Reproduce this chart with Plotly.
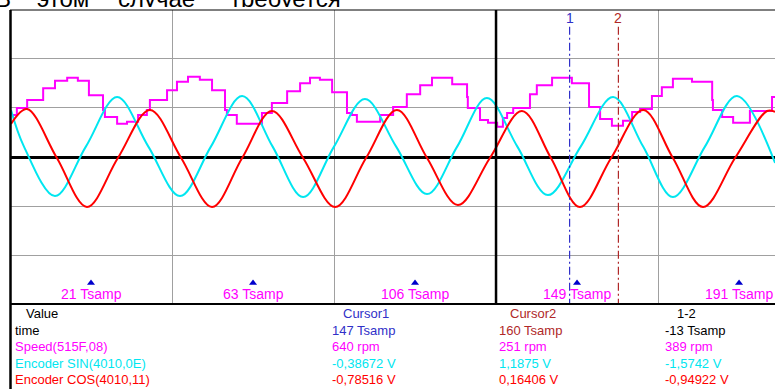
import plotly.graph_objects as go

W, H = 775, 389

# ---------------- data (x in Tsamp, y in screen divisions) ----------------
speed_t = [0.5, 1.8, 4.5, 8.7, 11.8, 15.0, 17.8, 20.7, 24.4, 24.9, 28.1, 30.7, 33.6, 35.9,
           36.7, 41.2, 43.8, 46.7, 49.8, 53.0, 56.4, 56.9, 59.5, 66.1, 68.7, 72.7, 76.1,
           78.7, 81.3, 84.5, 88.4, 89.7, 91.0, 97.1, 100.5, 104.1, 107.6, 110.7, 116.0,
           119.9, 120.1, 123.3, 125.4, 127.8, 129.3, 130.4, 132.0, 136.4, 138.2, 142.2,
           147.4, 151.9, 154.8, 157.9, 160.8, 163.2, 165.3, 168.4, 171.0, 173.9, 178.9,
           184.2, 184.4, 186.8, 189.7, 194.1, 199.9, 201.0]
speed_v = [0.85, 0.99, 1.15, 1.39, 1.54, 1.60, 1.54, 1.25, 0.95, 0.81, 0.67, 0.71, 0.85, 0.95,
           1.15, 1.35, 1.52, 1.62, 1.56, 1.35, 0.95, 0.85, 0.67, 0.89, 1.09, 1.33, 1.49,
           1.60, 1.56, 1.31, 0.89, 0.85, 0.71, 0.85, 1.01, 1.27, 1.45, 1.60, 1.47,
           1.21, 0.99, 0.75, 0.69, 0.61, 0.79, 0.89, 0.99, 1.27, 1.45, 1.60,
           1.49, 1.01, 0.77, 0.63, 0.73, 0.91, 0.97, 1.23, 1.41, 1.58, 1.52,
           1.15, 0.95, 0.81, 0.69, 0.93, 1.21, 1.21]

sin_t = [0.26, 3.67, 11.8, 19.9, 28.1, 36.3, 44.6, 52.7, 60.9, 68.9, 76.9, 85.0, 93.1,
         101.3, 109.4, 117.3, 125.1, 133.1, 141.1, 149.7, 158.2, 166.1, 173.9, 182.3,
         190.7, 200.7]
sin_v = [0.95, 0.21, -0.79, 0.21, 1.21, 0.21, -0.79, 0.21, 1.23, 0.21, -0.81, 0.21, 1.17,
         0.21, -0.75, 0.21, 1.19, 0.21, -0.77, 0.21, 1.21, 0.21, -0.81, 0.21,
         1.23, -0.12]

cos_t = [0.26, 4.46, 12.3, 20.2, 28.3, 36.7, 44.9, 53.0, 60.9, 68.7, 76.9, 85.3, 93.4,
         101.5, 109.4, 117.5, 125.9, 134.3, 141.9, 149.5, 157.7, 166.1, 173.9, 181.8,
         190.2, 198.6, 200.7]
cos_v = [0.67, 0.97, -0.02, -1.01, -0.02, 0.95, -0.02, -1.01, -0.02, 0.93, -0.02, -1.01,
         -0.02, 0.95, -0.02, -0.97, -0.02, 0.93, -0.02, -1.01, -0.02, 0.95, -0.02,
         -1.01, -0.02, 0.93, 0.91]

time_label_pos = [21.25, 63.75, 106.25, 148.75, 191.25]
time_labels = ["21 Tsamp", "63 Tsamp", "106 Tsamp", "149 Tsamp", "191 Tsamp"]

cursor_pos = [146.8, 159.6]
cursor_names = ["1", "2"]

row_names = ["time", "Speed(515F,08)", "Encoder SIN(4010,0E)", "Encoder COS(4010,11)"]
cursor1_vals = ["147 Tsamp", "640 rpm", "-0,38672 V", "-0,78516 V"]
cursor2_vals = ["160 Tsamp", "251 rpm", "1,1875 V", "0,16406 V"]
diff_vals = ["-13 Tsamp", "389 rpm", "-1,5742 V", "-0,94922 V"]
col_headers = ["Value", "Cursor1", "Cursor2", "1-2"]

title_words = ["В", "этом", "случае", "требуется"]

# ---------------- styling / layout constants ----------------
MAG = "#FF00FF"
CYA = "#00E6F0"
RED = "#FF0000"
BLUE = "#3030C8"
BROWN = "#B02828"
GRID = "#A0A0A0"
FONT = "Liberation Sans, Arial, sans-serif"

X_RANGE = [0, 765 / 3.812]
Y_RANGE = [-2.97, 2.97]
title_word_px = [-5, 37, 118, 230]


def px(x):
    return x / W


def py(y):
    return 1 - y / H


fig = go.Figure()

fig.add_trace(go.Scatter(x=speed_t, y=speed_v, mode="lines",
                         line=dict(color=MAG, width=2, shape="hv")))
fig.add_trace(go.Scatter(x=sin_t, y=sin_v, mode="lines",
                         line=dict(color=CYA, width=2, shape="spline", smoothing=1.0)))
fig.add_trace(go.Scatter(x=cos_t, y=cos_v, mode="lines",
                         line=dict(color=RED, width=2, shape="spline", smoothing=1.0)))

# cursors
cur_cols = [BLUE, BROWN]
for c, name, col in zip(cursor_pos, cursor_names, cur_cols):
    fig.add_trace(go.Scatter(x=[c, c], y=[2.63, Y_RANGE[0]], mode="lines",
                             line=dict(color=col, width=1.2, dash="8px,3px,2px,3px")))
    fig.add_annotation(x=c, y=2.81, xref="x", yref="y", text=name, showarrow=False,
                       font=dict(family=FONT, size=14, color=col),
                       xanchor="center", yanchor="middle")

# time markers
fig.add_trace(go.Scatter(x=time_label_pos, y=[-2.545] * len(time_label_pos), mode="markers",
                         marker=dict(symbol="triangle-up", size=7, color="#0000CC",
                                     line=dict(width=0))))
for p, lab in zip(time_label_pos, time_labels):
    fig.add_annotation(x=p, y=-2.77, xref="x", yref="y", text=lab, showarrow=False,
                       font=dict(family=FONT, size=14, color=MAG),
                       xanchor="center", yanchor="middle")

# cropped title line at the very top (clipped to a thin strip)
fig.add_trace(go.Scatter(x=title_word_px, y=[6.5] * len(title_words), mode="text",
                         text=title_words, textposition="middle right",
                         textfont=dict(family=FONT, size=24, color="black"),
                         xaxis="x2", yaxis="y2", cliponaxis=True))

# frame shapes
shapes = [
    # thick vertical centre line
    dict(type="line", xref="x", yref="y", x0=127.5, x1=127.5, y0=Y_RANGE[0], y1=Y_RANGE[1],
         line=dict(color="black", width=2.5)),
    # left border (runs down through the table)
    dict(type="line", xref="paper", yref="paper", x0=px(10.5), x1=px(10.5), y0=py(10), y1=0,
         line=dict(color="black", width=2.5)),
    # top border
    dict(type="line", xref="paper", yref="paper", x0=px(10), x1=1, y0=py(10), y1=py(10),
         line=dict(color="black", width=1)),
    # bottom border
    dict(type="line", xref="paper", yref="paper", x0=px(10), x1=1, y0=py(304), y1=py(304),
         line=dict(color="black", width=2)),
]

# table text
ann = []
row_y = [330, 346.5, 363, 379]
row_cols = ["black", MAG, CYA, RED]


def t(x, y, s, col, anchor="left"):
    ann.append(dict(x=px(x), y=py(y), xref="paper", yref="paper", text=s, showarrow=False,
                    xanchor=anchor, yanchor="middle",
                    font=dict(family=FONT, size=13, color=col)))


t(24, 313, col_headers[0], "black")
t(366, 313, col_headers[1], BLUE, "center")
t(533, 313, col_headers[2], BROWN, "center")
t(686, 313, col_headers[3], "black", "center")
for i, (nm, v1, v2, vd) in enumerate(zip(row_names, cursor1_vals, cursor2_vals, diff_vals)):
    c = row_cols[i]
    t(12.5, row_y[i], nm, c)
    t(330, row_y[i], v1, BLUE if i == 0 else c)
    t(497, row_y[i], v2, BROWN if i == 0 else c)
    t(663, row_y[i], vd, "black" if i == 0 else c)

for a in ann:
    fig.add_annotation(**a)

fig.update_layout(
    width=W, height=H, autosize=False,
    margin=dict(l=0, r=0, t=0, b=0, pad=0),
    paper_bgcolor="white", plot_bgcolor="white",
    showlegend=False,
    shapes=shapes,
    xaxis=dict(domain=[px(10), 1], range=X_RANGE, showgrid=True, dtick=42.5, tick0=0,
               gridcolor=GRID, gridwidth=1, zeroline=False, showline=False,
               showticklabels=False, ticks="", fixedrange=True),
    yaxis=dict(domain=[py(304), py(10)], range=Y_RANGE, showgrid=True, dtick=1, tick0=0,
               gridcolor=GRID, gridwidth=1, zeroline=True, zerolinecolor="black",
               zerolinewidth=2.5, showline=False, showticklabels=False, ticks="",
               fixedrange=True),
    xaxis2=dict(domain=[0, 1], range=[0, W], anchor="y2", visible=False, fixedrange=True),
    yaxis2=dict(domain=[py(7), 1], range=[0, 7], anchor="x2", visible=False, fixedrange=True),
)

fig.write_html("out.html")
